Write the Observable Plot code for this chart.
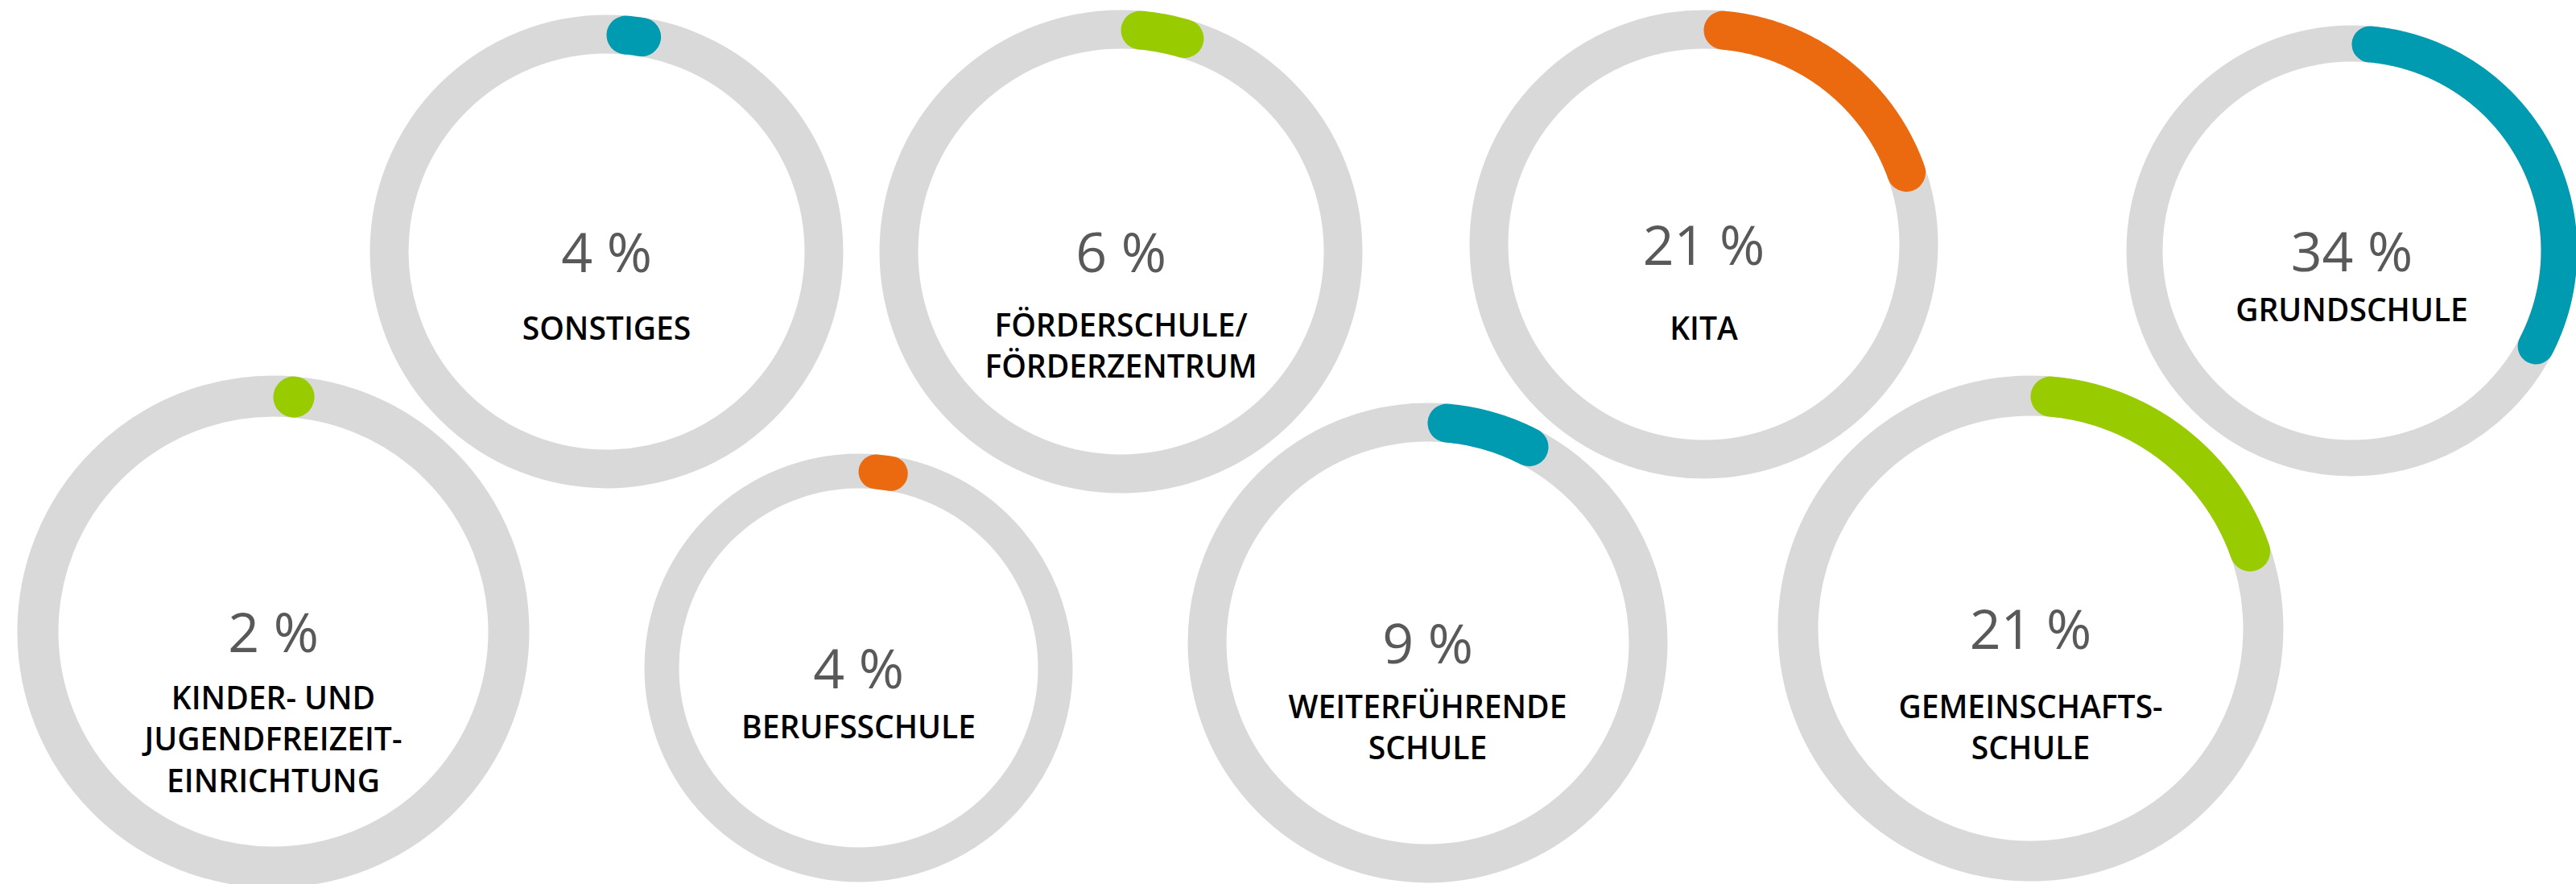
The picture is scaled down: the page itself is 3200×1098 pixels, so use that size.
<!DOCTYPE html>
<html>
<head>
<meta charset="utf-8">
<script src="https://cdn.jsdelivr.net/npm/d3@7"></script>
<script src="https://cdn.jsdelivr.net/npm/@observablehq/plot@0.6"></script>
<style>
  html, body { margin: 0; padding: 0; background: #fff; overflow: hidden; }
  #chart svg { display: block; max-width: none !important; }
</style>
</head>
<body>
<div id="chart"></div>
<script>
// ---- Data ----
const categories = [
  "KINDER- UND\nJUGENDFREIZEIT-\nEINRICHTUNG",
  "SONSTIGES",
  "FÖRDERSCHULE/\nFÖRDERZENTRUM",
  "KITA",
  "GRUNDSCHULE",
  "BERUFSSCHULE",
  "WEITERFÜHRENDE\nSCHULE",
  "GEMEINSCHAFTS-\nSCHULE"
];
const shares = [2, 4, 6, 21, 34, 4, 9, 21];          // percent
const valueLabels = ["2 %", "4 %", "6 %", "21 %", "34 %", "4 %", "9 %", "21 %"];
const colorGroup = ["accent-green", "accent-teal", "accent-green", "accent-orange",
                    "accent-teal", "accent-orange", "accent-teal", "accent-green"];

// ---- Styles ----
const palette = {
  domain: ["accent-teal", "accent-green", "accent-orange"],
  range: ["#009bb0", "#99cc00", "#ec6a0f"]
};
const ringColor = "#d9d9d9";
const fontFamily = "'Open Sans', 'Noto Sans', sans-serif";

// ---- Layout (bubble placement, pixels) ----
const layout = [
  {cx: 339,  cy: 784, outer: 318, inner: 267, labelDy: 96},
  {cx: 753,  cy: 312, outer: 294, inner: 246, labelDy: 109},
  {cx: 1392, cy: 312, outer: 300, inner: 252, labelDy: 105},
  {cx: 2116, cy: 303, outer: 291, inner: 243, labelDy: 118},
  {cx: 2921, cy: 311, outer: 280, inner: 235, labelDy: 87},
  {cx: 1066, cy: 829, outer: 266, inner: 223, labelDy: 87},
  {cx: 1773, cy: 798, outer: 298, inner: 250, labelDy: 93},
  {cx: 2522, cy: 780, outer: 314, inner: 264, labelDy: 111}
];
const W = 3200, H = 1098;
const lineGap = 51.5;

const marks = [];
layout.forEach((b, i) => {
  const rMid = (b.outer + b.inner) / 2;
  const sw = b.outer - b.inner;
  // background ring
  marks.push(Plot.dot([b], {x: "cx", y: "cy", r: rMid, fill: "none", stroke: ringColor, strokeWidth: sw}));
  // value arc (round caps included in the share's angle)
  const cap = (sw / 2) / rMid;
  const a0 = cap;
  const a1 = Math.max(a0 + 0.0005, shares[i] / 100 * 2 * Math.PI - cap);
  const n = Math.max(2, Math.ceil((a1 - a0) / (Math.PI / 360)));
  const pts = d3.range(n + 1).map(k => {
    const a = a0 + (a1 - a0) * k / n;
    return {x: b.cx + rMid * Math.sin(a), y: b.cy - rMid * Math.cos(a), g: colorGroup[i]};
  });
  marks.push(Plot.line(pts, {x: "x", y: "y", stroke: "g", strokeWidth: sw, strokeLinecap: "round", curve: "linear"}));
});

// value labels
const valueRows = layout.map((b, i) => ({x: b.cx, y: b.cy + 25, t: valueLabels[i]}));
marks.push(Plot.text(valueRows, {x: "x", y: "y", text: "t", fontSize: 68, fontWeight: 400, fill: "#595959",
  fontFamily, textAnchor: "middle", lineAnchor: "bottom"}));

// category labels (one row per line)
const labelRows = layout.flatMap((b, i) =>
  categories[i].split("\n").map((line, j) => ({x: b.cx, y: b.cy + b.labelDy + j * lineGap, t: line})));
marks.push(Plot.text(labelRows, {x: "x", y: "y", text: "t", fontSize: 39, fontWeight: 600, fill: "#000",
  fontFamily, textAnchor: "middle", lineAnchor: "bottom"}));

const chart = Plot.plot({
  width: W, height: H,
  marginTop: 0, marginRight: 0, marginBottom: 0, marginLeft: 0,
  x: {domain: [0, W], range: [0, W], axis: null},
  y: {domain: [0, H], range: [0, H], axis: null},
  color: palette,
  style: {background: "white", fontFamily},
  marks
});
document.getElementById("chart").appendChild(chart);
</script>
</body>
</html>
